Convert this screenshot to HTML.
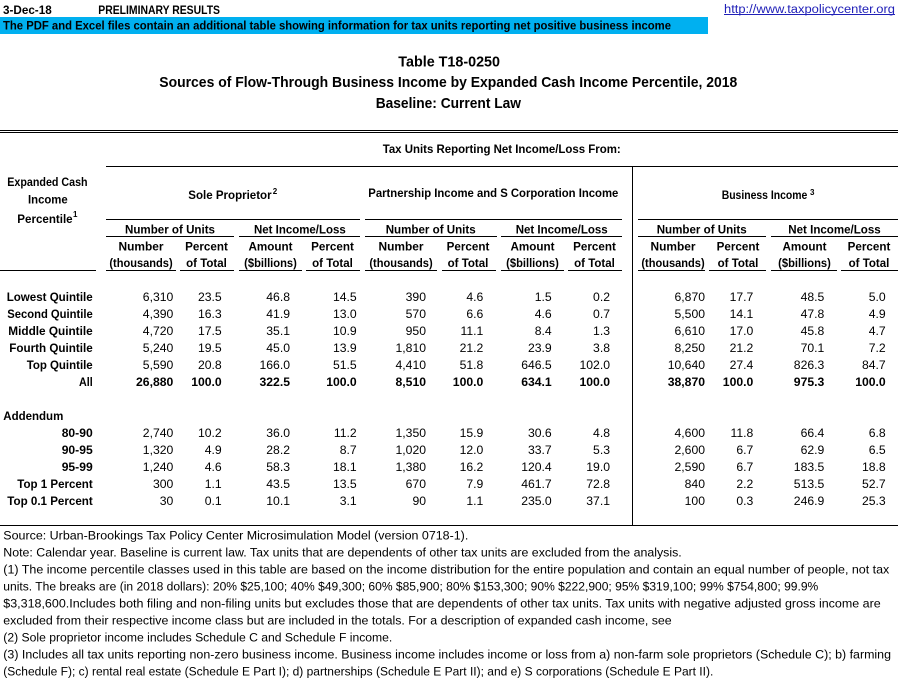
<!DOCTYPE html>
<html><head><meta charset="utf-8"><style>
html,body{margin:0;padding:0;background:#fff;}
svg{display:block;}
text{font-family:"Liberation Sans",Arial,sans-serif;fill:#000;}
.b{font-weight:bold;}
</style></head><body>
<svg width="898" height="696" viewBox="0 0 898 696" xmlns="http://www.w3.org/2000/svg">
<rect x="0" y="0" width="898" height="696" fill="#fff"/>
<!-- top header -->
<text class="b" x="3" y="14" font-size="11.5" textLength="48.7" lengthAdjust="spacingAndGlyphs">3-Dec-18</text>
<text class="b" x="98.3" y="14" font-size="11.5" textLength="121.7" lengthAdjust="spacingAndGlyphs">PRELIMINARY RESULTS</text>
<text x="724" y="13" font-size="11.5" textLength="171" lengthAdjust="spacingAndGlyphs" style="fill:#2020b8">http://www.taxpolicycenter.org</text>
<rect x="724" y="14" width="171" height="1" fill="#2020b8"/>
<rect x="0" y="17" width="708" height="17" fill="#00B0F0"/>
<text class="b" x="3" y="29.3" font-size="12" textLength="668" lengthAdjust="spacingAndGlyphs">The PDF and Excel files contain an additional table showing information for tax units reporting net positive business income</text>
<!-- titles -->
<text class="b" x="398.3" y="66.5" font-size="15" textLength="101.7" lengthAdjust="spacingAndGlyphs">Table T18-0250</text>
<text class="b" x="159.3" y="87" font-size="15" textLength="578" lengthAdjust="spacingAndGlyphs">Sources of Flow-Through Business Income by Expanded Cash Income Percentile, 2018</text>
<text class="b" x="375.7" y="108" font-size="15" textLength="145.3" lengthAdjust="spacingAndGlyphs">Baseline: Current Law</text>
<!-- lines -->
<rect x="0" y="130" width="898" height="1" fill="#000"/>
<rect x="0" y="132" width="898" height="1" fill="#000"/>
<rect x="106" y="166" width="792" height="1" fill="#000"/>
<rect x="632" y="166" width="1" height="360" fill="#000"/>
<rect x="106" y="219" width="254" height="1" fill="#000"/>
<rect x="365" y="219" width="257" height="1" fill="#000"/>
<rect x="638" y="219" width="260" height="1" fill="#000"/>
<rect x="106" y="236" width="128" height="1" fill="#000"/>
<rect x="239" y="236" width="121" height="1" fill="#000"/>
<rect x="365" y="236" width="132" height="1" fill="#000"/>
<rect x="501" y="236" width="121" height="1" fill="#000"/>
<rect x="638" y="236" width="128" height="1" fill="#000"/>
<rect x="771" y="236" width="127" height="1" fill="#000"/>
<rect x="0" y="270" width="96" height="1" fill="#000"/>
<rect x="106" y="270" width="70" height="1" fill="#000"/>
<rect x="180" y="270" width="54" height="1" fill="#000"/>
<rect x="239" y="270" width="63" height="1" fill="#000"/>
<rect x="306" y="270" width="54" height="1" fill="#000"/>
<rect x="365" y="270" width="72" height="1" fill="#000"/>
<rect x="442" y="270" width="54" height="1" fill="#000"/>
<rect x="501" y="270" width="63" height="1" fill="#000"/>
<rect x="568" y="270" width="54" height="1" fill="#000"/>
<rect x="638" y="270" width="67" height="1" fill="#000"/>
<rect x="709" y="270" width="57" height="1" fill="#000"/>
<rect x="771" y="270" width="66" height="1" fill="#000"/>
<rect x="841" y="270" width="57" height="1" fill="#000"/>
<rect x="0" y="525" width="898" height="1" fill="#000"/>
<!-- header text -->
<g class="b" font-size="12.2">
<text class="b" x="382.7" y="153" textLength="238" lengthAdjust="spacingAndGlyphs">Tax Units Reporting Net Income/Loss From:</text>
<text class="b" x="7.3" y="186" textLength="80.3" lengthAdjust="spacingAndGlyphs">Expanded Cash</text>
<text class="b" x="28" y="203.5" textLength="39.7" lengthAdjust="spacingAndGlyphs">Income</text>
<text class="b" x="17.3" y="223" textLength="55.3" lengthAdjust="spacingAndGlyphs">Percentile</text>
<text class="b" x="73" y="217" font-size="8">1</text>
<text class="b" x="188.3" y="199" textLength="83.3" lengthAdjust="spacingAndGlyphs">Sole Proprietor</text>
<text class="b" x="272.7" y="194" font-size="8">2</text>
<text class="b" x="368.3" y="197" textLength="250" lengthAdjust="spacingAndGlyphs">Partnership Income and S Corporation Income</text>
<text class="b" x="721.7" y="199" textLength="85.6" lengthAdjust="spacingAndGlyphs">Business Income</text>
<text class="b" x="810" y="195" font-size="8">3</text>
<text class="b" x="125" y="233.3" textLength="90" lengthAdjust="spacingAndGlyphs">Number of Units</text>
<text class="b" x="254" y="233.3" textLength="91.7" lengthAdjust="spacingAndGlyphs">Net Income/Loss</text>
<text class="b" x="385.7" y="233.3" textLength="90" lengthAdjust="spacingAndGlyphs">Number of Units</text>
<text class="b" x="515.7" y="233.3" textLength="92" lengthAdjust="spacingAndGlyphs">Net Income/Loss</text>
<text class="b" x="656.7" y="233.3" textLength="90" lengthAdjust="spacingAndGlyphs">Number of Units</text>
<text class="b" x="788.3" y="233.3" textLength="92.4" lengthAdjust="spacingAndGlyphs">Net Income/Loss</text>
<!-- sub col headers: centers 141,206.5,270.5,332.5,401,468,532.5,594.5,673,738,804.5,869 -->
<text class="b" x="118.5" y="250.5" textLength="45" lengthAdjust="spacingAndGlyphs">Number</text>
<text class="b" x="109.35" y="267" textLength="63.3" lengthAdjust="spacingAndGlyphs">(thousands)</text>
<text class="b" x="185.15" y="250.5" textLength="42.7" lengthAdjust="spacingAndGlyphs">Percent</text>
<text class="b" x="186.15" y="267" textLength="40.7" lengthAdjust="spacingAndGlyphs">of Total</text>
<text class="b" x="248.5" y="250.5" textLength="44" lengthAdjust="spacingAndGlyphs">Amount</text>
<text class="b" x="244.15" y="267" textLength="52.7" lengthAdjust="spacingAndGlyphs">($billions)</text>
<text class="b" x="311.15" y="250.5" textLength="42.7" lengthAdjust="spacingAndGlyphs">Percent</text>
<text class="b" x="312.15" y="267" textLength="40.7" lengthAdjust="spacingAndGlyphs">of Total</text>
<text class="b" x="378.5" y="250.5" textLength="45" lengthAdjust="spacingAndGlyphs">Number</text>
<text class="b" x="369.35" y="267" textLength="63.3" lengthAdjust="spacingAndGlyphs">(thousands)</text>
<text class="b" x="446.65" y="250.5" textLength="42.7" lengthAdjust="spacingAndGlyphs">Percent</text>
<text class="b" x="447.65" y="267" textLength="40.7" lengthAdjust="spacingAndGlyphs">of Total</text>
<text class="b" x="510.5" y="250.5" textLength="44" lengthAdjust="spacingAndGlyphs">Amount</text>
<text class="b" x="506.15" y="267" textLength="52.7" lengthAdjust="spacingAndGlyphs">($billions)</text>
<text class="b" x="573.15" y="250.5" textLength="42.7" lengthAdjust="spacingAndGlyphs">Percent</text>
<text class="b" x="574.15" y="267" textLength="40.7" lengthAdjust="spacingAndGlyphs">of Total</text>
<text class="b" x="650.5" y="250.5" textLength="45" lengthAdjust="spacingAndGlyphs">Number</text>
<text class="b" x="641.35" y="267" textLength="63.3" lengthAdjust="spacingAndGlyphs">(thousands)</text>
<text class="b" x="716.65" y="250.5" textLength="42.7" lengthAdjust="spacingAndGlyphs">Percent</text>
<text class="b" x="717.65" y="267" textLength="40.7" lengthAdjust="spacingAndGlyphs">of Total</text>
<text class="b" x="782.5" y="250.5" textLength="44" lengthAdjust="spacingAndGlyphs">Amount</text>
<text class="b" x="778.15" y="267" textLength="52.7" lengthAdjust="spacingAndGlyphs">($billions)</text>
<text class="b" x="847.65" y="250.5" textLength="42.7" lengthAdjust="spacingAndGlyphs">Percent</text>
<text class="b" x="848.65" y="267" textLength="40.7" lengthAdjust="spacingAndGlyphs">of Total</text>
</g>
<!-- row labels -->
<g font-size="12.2">
<text class="b" x="6.7" y="301" textLength="86" lengthAdjust="spacingAndGlyphs">Lowest Quintile</text>
<text class="b" x="7.3" y="318" textLength="85.4" lengthAdjust="spacingAndGlyphs">Second Quintile</text>
<text class="b" x="8.3" y="335" textLength="84.4" lengthAdjust="spacingAndGlyphs">Middle Quintile</text>
<text class="b" x="9.3" y="352" textLength="83.4" lengthAdjust="spacingAndGlyphs">Fourth Quintile</text>
<text class="b" x="26.7" y="369" textLength="66" lengthAdjust="spacingAndGlyphs">Top Quintile</text>
<text class="b" x="79" y="386" textLength="13.7" lengthAdjust="spacingAndGlyphs">All</text>
<text class="b" x="3.3" y="420" textLength="60" lengthAdjust="spacingAndGlyphs">Addendum</text>
<text class="b" x="61.7" y="437" textLength="31" lengthAdjust="spacingAndGlyphs">80-90</text>
<text class="b" x="61.7" y="454" textLength="31" lengthAdjust="spacingAndGlyphs">90-95</text>
<text class="b" x="61.7" y="471" textLength="31" lengthAdjust="spacingAndGlyphs">95-99</text>
<text class="b" x="17.3" y="488" textLength="75.4" lengthAdjust="spacingAndGlyphs">Top 1 Percent</text>
<text class="b" x="7.3" y="505" textLength="85.4" lengthAdjust="spacingAndGlyphs">Top 0.1 Percent</text>
</g>
<!-- data -->
<g font-size="12.2" text-anchor="end">
<text y="301"><tspan x="173.3">6,310</tspan><tspan x="221.7">23.5</tspan><tspan x="290">46.8</tspan><tspan x="356.7">14.5</tspan><tspan x="426">390</tspan><tspan x="483.3">4.6</tspan><tspan x="551.7">1.5</tspan><tspan x="610">0.2</tspan><tspan x="705">6,870</tspan><tspan x="753.3">17.7</tspan><tspan x="824.3">48.5</tspan><tspan x="885.7">5.0</tspan></text>
<text y="318"><tspan x="173.3">4,390</tspan><tspan x="221.7">16.3</tspan><tspan x="290">41.9</tspan><tspan x="356.7">13.0</tspan><tspan x="426">570</tspan><tspan x="483.3">6.6</tspan><tspan x="551.7">4.6</tspan><tspan x="610">0.7</tspan><tspan x="705">5,500</tspan><tspan x="753.3">14.1</tspan><tspan x="824.3">47.8</tspan><tspan x="885.7">4.9</tspan></text>
<text y="335"><tspan x="173.3">4,720</tspan><tspan x="221.7">17.5</tspan><tspan x="290">35.1</tspan><tspan x="356.7">10.9</tspan><tspan x="426">950</tspan><tspan x="483.3">11.1</tspan><tspan x="551.7">8.4</tspan><tspan x="610">1.3</tspan><tspan x="705">6,610</tspan><tspan x="753.3">17.0</tspan><tspan x="824.3">45.8</tspan><tspan x="885.7">4.7</tspan></text>
<text y="352"><tspan x="173.3">5,240</tspan><tspan x="221.7">19.5</tspan><tspan x="290">45.0</tspan><tspan x="356.7">13.9</tspan><tspan x="426">1,810</tspan><tspan x="483.3">21.2</tspan><tspan x="551.7">23.9</tspan><tspan x="610">3.8</tspan><tspan x="705">8,250</tspan><tspan x="753.3">21.2</tspan><tspan x="824.3">70.1</tspan><tspan x="885.7">7.2</tspan></text>
<text y="369"><tspan x="173.3">5,590</tspan><tspan x="221.7">20.8</tspan><tspan x="290">166.0</tspan><tspan x="356.7">51.5</tspan><tspan x="426">4,410</tspan><tspan x="483.3">51.8</tspan><tspan x="551.7">646.5</tspan><tspan x="610">102.0</tspan><tspan x="705">10,640</tspan><tspan x="753.3">27.4</tspan><tspan x="824.3">826.3</tspan><tspan x="885.7">84.7</tspan></text>
<text y="386" class="b"><tspan x="173.3">26,880</tspan><tspan x="221.7">100.0</tspan><tspan x="290">322.5</tspan><tspan x="356.7">100.0</tspan><tspan x="426">8,510</tspan><tspan x="483.3">100.0</tspan><tspan x="551.7">634.1</tspan><tspan x="610">100.0</tspan><tspan x="705">38,870</tspan><tspan x="753.3">100.0</tspan><tspan x="824.3">975.3</tspan><tspan x="885.7">100.0</tspan></text>
<text y="437"><tspan x="173.3">2,740</tspan><tspan x="221.7">10.2</tspan><tspan x="290">36.0</tspan><tspan x="356.7">11.2</tspan><tspan x="426">1,350</tspan><tspan x="483.3">15.9</tspan><tspan x="551.7">30.6</tspan><tspan x="610">4.8</tspan><tspan x="705">4,600</tspan><tspan x="753.3">11.8</tspan><tspan x="824.3">66.4</tspan><tspan x="885.7">6.8</tspan></text>
<text y="454"><tspan x="173.3">1,320</tspan><tspan x="221.7">4.9</tspan><tspan x="290">28.2</tspan><tspan x="356.7">8.7</tspan><tspan x="426">1,020</tspan><tspan x="483.3">12.0</tspan><tspan x="551.7">33.7</tspan><tspan x="610">5.3</tspan><tspan x="705">2,600</tspan><tspan x="753.3">6.7</tspan><tspan x="824.3">62.9</tspan><tspan x="885.7">6.5</tspan></text>
<text y="471"><tspan x="173.3">1,240</tspan><tspan x="221.7">4.6</tspan><tspan x="290">58.3</tspan><tspan x="356.7">18.1</tspan><tspan x="426">1,380</tspan><tspan x="483.3">16.2</tspan><tspan x="551.7">120.4</tspan><tspan x="610">19.0</tspan><tspan x="705">2,590</tspan><tspan x="753.3">6.7</tspan><tspan x="824.3">183.5</tspan><tspan x="885.7">18.8</tspan></text>
<text y="488"><tspan x="173.3">300</tspan><tspan x="221.7">1.1</tspan><tspan x="290">43.5</tspan><tspan x="356.7">13.5</tspan><tspan x="426">670</tspan><tspan x="483.3">7.9</tspan><tspan x="551.7">461.7</tspan><tspan x="610">72.8</tspan><tspan x="705">840</tspan><tspan x="753.3">2.2</tspan><tspan x="824.3">513.5</tspan><tspan x="885.7">52.7</tspan></text>
<text y="505"><tspan x="173.3">30</tspan><tspan x="221.7">0.1</tspan><tspan x="290">10.1</tspan><tspan x="356.7">3.1</tspan><tspan x="426">90</tspan><tspan x="483.3">1.1</tspan><tspan x="551.7">235.0</tspan><tspan x="610">37.1</tspan><tspan x="705">100</tspan><tspan x="753.3">0.3</tspan><tspan x="824.3">246.9</tspan><tspan x="885.7">25.3</tspan></text>
</g>
<!-- footnotes -->
<g font-size="12.2">
<text x="3.3" y="539.3" textLength="465" lengthAdjust="spacingAndGlyphs">Source: Urban-Brookings Tax Policy Center Microsimulation Model (version 0718-1).</text>
<text x="3.3" y="556.3" textLength="678.4" lengthAdjust="spacingAndGlyphs">Note: Calendar year. Baseline is current law. Tax units that are dependents of other tax units are excluded from the analysis.</text>
<text x="3.3" y="573.3" textLength="886" lengthAdjust="spacingAndGlyphs">(1) The income percentile classes used in this table are based on the income distribution for the entire population and contain an equal number of people, not tax</text>
<text x="3.3" y="590.3" textLength="815" lengthAdjust="spacingAndGlyphs">units. The breaks are (in 2018 dollars): 20% $25,100; 40% $49,300; 60% $85,900; 80% $153,300; 90% $222,900; 95% $319,100; 99% $754,800; 99.9%</text>
<text x="3.3" y="607.3" textLength="877.4" lengthAdjust="spacingAndGlyphs">$3,318,600.Includes both filing and non-filing units but excludes those that are dependents of other tax units. Tax units with negative adjusted gross income are</text>
<text x="3.3" y="624.3" textLength="668.4" lengthAdjust="spacingAndGlyphs">excluded from their respective income class but are included in the totals. For a description of expanded cash income, see</text>
<text x="3.3" y="641.3" textLength="389" lengthAdjust="spacingAndGlyphs">(2)  Sole proprietor income includes Schedule C and Schedule F income.</text>
<text x="3.3" y="658.3" textLength="887.7" lengthAdjust="spacingAndGlyphs">(3) Includes all tax units reporting non-zero business income. Business income includes income or loss from a) non-farm sole proprietors (Schedule C); b) farming</text>
<text x="3.3" y="675.3" textLength="710" lengthAdjust="spacingAndGlyphs">(Schedule F); c) rental real estate (Schedule E Part I); d) partnerships (Schedule E Part II); and e) S corporations (Schedule E Part II).</text>
</g>
</svg>
</body></html>
